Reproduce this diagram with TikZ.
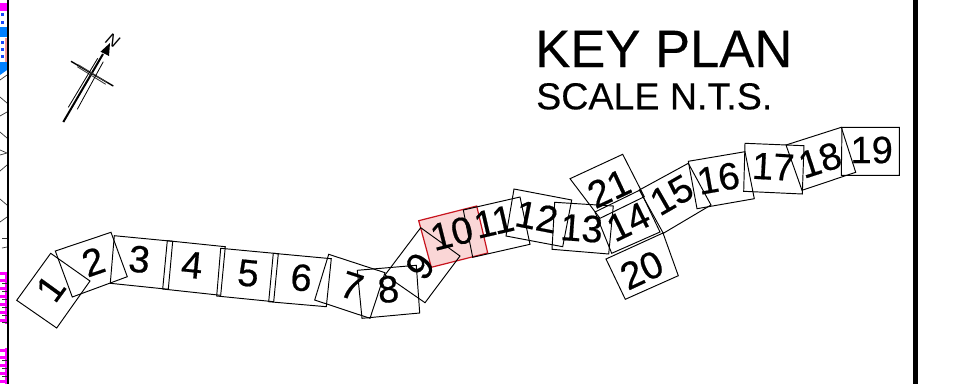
\documentclass[tikz,border=0pt]{standalone}
\usepackage{fontspec}
\setmainfont{Liberation Sans}
\newfontfamily\digfont[FakeBold=0.5]{Liberation Sans}
\newfontfamily\titlefont[FakeBold=0.3]{Liberation Sans}
\definecolor{keymag}{RGB}{255,0,255}
\definecolor{keyblue}{RGB}{0,128,255}
\definecolor{keysq}{RGB}{20,70,255}
\definecolor{keypink}{RGB}{250,214,214}
\definecolor{keyred}{RGB}{200,20,30}
\tikzset{
  boxline/.style={draw=black,line width=0.95pt,line join=miter},
  numlabel/.style={inner sep=0pt,font=\digfont\fontsize{38}{38}\selectfont,text=black},
  titlelabel/.style={inner sep=0pt,anchor=base west,text=black},
  frameline/.style={draw=black,line width=#1},
  thinstub/.style={draw=black!80,line width=0.7pt}
}
\begin{document}
\begin{tikzpicture}[x=1pt,y=-1pt]
\useasboundingbox (0,0) rectangle (954,384);
\fill[white] (0,0) rectangle (954,384);
% left strip fragments
\fill[keymag] (0,3) rectangle (7,11);
\fill[keyblue] (0,27) rectangle (7,37);
\fill[keyblue] (0,62) -- (7,62) -- (7,70) -- (0,75) -- cycle;
\foreach \yy in {13,21,41,48,55}{\fill[keysq] (1,\yy) rectangle (4,\yy+3);}
\fill[keypink!70!red] (5,38) rectangle (7,62);
\foreach \aa/\bb/\cc/\dd in {0/80/7/75,0/97/7/103,0/116/7/112,0/132/7/138,7/165/0/171,0/199/7/205,7/217/0/222,2/238/7/238,2/248/7/247}{
  \draw[thinstub] (\aa,\bb) -- (\cc,\dd);}
\draw[thinstub] (0,150) -- (7,153) -- (0,155);
\fill[keymag] (4.5,272) rectangle (7,324);
\fill[keymag] (4.5,348) rectangle (7,384);
\foreach \yy in {272,279,287,295,303,311,319,349,356,364,372,380}{
  \fill[keymag] (0,\yy) rectangle (7,\yy+2.5);}
\foreach \yy in {283,291,299,307,315,322,360,368,376}{
  \draw[thinstub] (2,\yy) -- (7,\yy);}
% frame
\draw[frameline=2.6pt] (8,0) -- (8,384);
\draw[frameline=5pt] (915,0) -- (915,384);
% north arrow
\draw[black,line width=2pt] (63.3,122) -- (103,54);
\fill[black] (110,43) -- (100.5,51.7) -- (109,56) -- cycle;
\draw[black,line width=1.4pt] (71,61.3) -- (113.3,86);
\draw[black!75,line width=0.9pt] (78.3,64.7) -- (106.7,82.3);
\draw[black!75,line width=0.9pt] (77.3,66.7) -- (105.7,84.3);
\draw[black,line width=0.8pt] (68.3,107.3) -- (97.7,58.3);
\draw[black,line width=0.8pt] (77.3,109.3) -- (103.3,61.7);
\node[inner sep=0pt,rotate=-30,font=\fontsize{17}{17}\selectfont\itshape] (north) at (112.7,40) {N};
% sheet 10 highlight
\filldraw[fill=keypink,draw=keyred,line width=1.2pt] (418.7,220.7) -- (476.7,206) -- (487.7,253) -- (431.3,267.3) -- cycle;
% sheets
\draw[boxline] (50.7,253.3) -- (90,281) -- (56.7,328) -- (16.7,300.3) -- cycle;
\draw[boxline] (55.3,251) -- (111,232.3) -- (127.3,276.7) -- (72.3,297) -- cycle;
\draw[boxline] (114.3,235.7) -- (172.7,241.3) -- (168.3,289.3) -- (110.3,283.3) -- cycle;
\draw[boxline] (167.3,240.7) -- (225.3,246.7) -- (220.7,295.3) -- (162.7,289) -- cycle;
\draw[boxline] (220.7,248.3) -- (278.3,253.7) -- (273.7,301.7) -- (216.7,296) -- cycle;
\draw[boxline] (273.3,253.3) -- (331.3,258.7) -- (326.3,306.7) -- (268.7,301.7) -- cycle;
\draw[boxline] (328.7,254.3) -- (385,272.7) -- (370,318.3) -- (314.7,300) -- cycle;
\draw[boxline] (357.3,270.3) -- (416.3,265.3) -- (419.7,313) -- (362,318.3) -- cycle;
\draw[boxline] (420.7,227.7) -- (460,256) -- (425,302.7) -- (385,275) -- cycle;
\draw[boxline] (463.3,210) -- (520,197) -- (530,244.3) -- (472.7,257.3) -- cycle;
\draw[boxline] (514,189) -- (571.7,200) -- (562.7,246.7) -- (506,236) -- cycle;
\draw[boxline] (554.7,202.3) -- (613.3,206) -- (608.7,254) -- (552,249.3) -- cycle;
\draw[boxline] (595,212) -- (640,190) -- (660,232) -- (611.7,253.3) -- cycle;
\draw[boxline] (639.3,190) -- (688.3,163.3) -- (711,205) -- (663.3,233.3) -- cycle;
\draw[boxline] (688.3,161.3) -- (745,151.7) -- (754.3,198.7) -- (697,208.7) -- cycle;
\draw[boxline] (745,143.3) -- (804,145.7) -- (802.3,194) -- (743.7,191.3) -- cycle;
\draw[boxline] (786,145) -- (841.3,127.3) -- (855.7,172.3) -- (802,190.3) -- cycle;
\draw[boxline] (842,127.3) -- (899.3,127.3) -- (899.3,175.3) -- (841.3,175.3) -- cycle;
\draw[boxline] (606,259) -- (663,233) -- (678.3,275.7) -- (625.3,299.3) -- cycle;
\draw[boxline] (570,178.7) -- (622.7,154.3) -- (644.3,196.7) -- (600,218.3) -- cycle;
% numbers
\node[numlabel,rotate=54] (n1) at (50.7,288.3) {1};
\node[numlabel,rotate=19] (n2) at (93.3,261.7) {2};
\node[numlabel,rotate=-5.5] (n3) at (139.3,259.3) {3};
\node[numlabel,rotate=-5.5] (n4) at (192,265) {4};
\node[numlabel,rotate=-5.5] (n5) at (248.3,273.3) {5};
\node[numlabel,rotate=-5.5] (n6) at (301.3,277.7) {6};
\node[numlabel,rotate=-18] (n7) at (351.7,286) {7};
\node[numlabel,rotate=5] (n8) at (388.3,289.3) {8};
\node[numlabel,rotate=53] (n9) at (420,266) {9};
\node[numlabel,rotate=14] (n10) at (451.7,233.3) {10};
\node[numlabel,rotate=13] (n11) at (494,221.7) {11};
\node[numlabel,rotate=-11] (n12) at (536.7,216.7) {12};
\node[numlabel,rotate=-4] (n13) at (581.7,228.3) {13};
\node[numlabel,rotate=26] (n14) at (628.3,221.7) {14};
\node[numlabel,rotate=30] (n15) at (671.7,195) {15};
\node[numlabel,rotate=10] (n16) at (718.3,178.3) {16};
\node[numlabel,rotate=-3] (n17) at (773.3,166.7) {17};
\node[numlabel,rotate=18] (n18) at (820,160) {18};
\node[numlabel,rotate=0] (n19) at (871.7,150) {19};
\node[numlabel,rotate=25] (n20) at (641.7,270) {20};
\node[numlabel,rotate=25] (n21) at (609,188.3) {21};
% title
\node[titlelabel,font=\titlefont\fontsize{52.6}{52.6}\selectfont] (keyplan) at (535,67) {KEY PLAN};
\node[titlelabel,font=\titlefont\fontsize{37.6}{37.6}\selectfont] (scale) at (536,109.3) {SCALE N.T.S.};
\end{tikzpicture}
\end{document}
